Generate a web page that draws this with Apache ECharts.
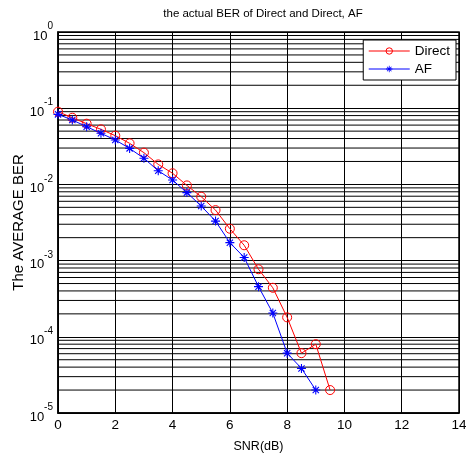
<!DOCTYPE html>
<html>
<head>
<meta charset="utf-8">
<script src="https://cdn.jsdelivr.net/npm/echarts@6/dist/echarts.min.js"></script>
<style>
  html, body { margin: 0; padding: 0; background: #fff; }
  #chart { width: 466px; height: 453px; }
</style>
</head>
<body>
<div id="chart"></div>
<script>
// SNR values (dB)
const snrDirect = [0, 0.5, 1, 1.5, 2, 2.5, 3, 3.5, 4, 4.5, 5, 5.5, 6, 6.5, 7, 7.5, 8, 8.5, 9, 9.5];
const berDirect = [0.090, 0.075, 0.0626, 0.0528, 0.0436, 0.0346, 0.0261, 0.0183, 0.0140, 0.0097,
                   0.0069, 0.0046, 0.00262, 0.00159, 7.7e-4, 4.4e-4, 1.8e-4, 6.1e-5, 8.0e-5, 2.0e-5];

const snrAF = [0, 0.5, 1, 1.5, 2, 2.5, 3, 3.5, 4, 4.5, 5, 5.5, 6, 6.5, 7, 7.5, 8, 8.5, 9];
const berAF = [0.083, 0.070, 0.0572, 0.0468, 0.0383, 0.0297, 0.0220, 0.0151, 0.0114, 0.0078,
               0.0052, 0.0033, 0.00172, 0.0011, 4.55e-4, 2.05e-4, 6.1e-5, 3.85e-5, 2.0e-5];

// axis ticks
const xTicks = [0, 2, 4, 6, 8, 10, 12, 14];
const yExponents = [-5, -4, -3, -2, -1, 0];

const xMin = xTicks[0], xMax = xTicks[xTicks.length - 1];
const yMin = Math.pow(10, yExponents[0]), yMax = Math.pow(10, yExponents[yExponents.length - 1]);

// asterisk marker built from four thin bars
const asterisk = 'path://M-0.6,-5 L0.6,-5 L0.6,5 L-0.6,5 Z ' +
  'M-5,-0.6 L5,-0.6 L5,0.6 L-5,0.6 Z ' +
  'M-3.9,-3.05 L-3.05,-3.9 L3.9,3.05 L3.05,3.9 Z ' +
  'M3.05,-3.9 L3.9,-3.05 L-3.05,3.9 L-3.9,3.05 Z';

const font = 'Liberation Sans, Arial, sans-serif';

// horizontal grid lines at 2..9 within each decade of the log axis
const minorGridSeries = [];
for (let i = 0; i < yExponents.length - 1; i++) {
  for (let k = 2; k <= 9; k++) {
    const v = k * Math.pow(10, yExponents[i]);
    minorGridSeries.push({
      name: 'minor-' + k + 'e' + yExponents[i],
      type: 'line',
      data: [[xMin, v], [xMax, v]],
      symbol: 'none',
      silent: true,
      lineStyle: { color: '#000', width: 1 },
      z: 1
    });
  }
}

const chart = echarts.init(document.getElementById('chart'), null, { renderer: 'canvas' });

chart.setOption({
  animation: false,
  backgroundColor: '#fff',
  title: {
    text: 'the actual BER of Direct and Direct, AF',
    left: 258, top: 3, textAlign: 'center',
    textStyle: { fontFamily: font, fontSize: 11.5, fontWeight: 'normal', color: '#000' }
  },
  grid: {
    left: 58, right: 7, top: 32, bottom: 40,
    outerBoundsMode: 'none',
    containLabel: false,
    show: true, borderColor: '#000', borderWidth: 1.5, backgroundColor: '#fff'
  },
  legend: {
    data: ['Direct', 'AF'],
    orient: 'vertical',
    right: 10, top: 40,
    backgroundColor: '#fff',
    borderColor: '#000', borderWidth: 1,
    padding: [4, 6, 4, 5],
    itemGap: 4,
    itemWidth: 41, itemHeight: 8,
    lineStyle: { width: 1 },
    itemStyle: { borderWidth: 1 },
    textStyle: { fontFamily: font, fontSize: 13.5, color: '#000' }
  },
  xAxis: {
    type: 'value',
    min: xMin, max: xMax, interval: 2,
    name: 'SNR(dB)', nameLocation: 'middle', nameGap: 27,
    nameTextStyle: { fontFamily: font, fontSize: 12.5, color: '#000' },
    axisLine: { show: true, lineStyle: { color: '#000', width: 1.5 } },
    axisTick: { show: true, inside: true, length: 4, lineStyle: { color: '#000' } },
    axisLabel: { fontFamily: font, fontSize: 13.5, color: '#000', margin: 5 },
    splitLine: { show: true, lineStyle: { color: '#000', width: 1 } }
  },
  yAxis: {
    type: 'log', logBase: 10,
    min: yMin, max: yMax,
    name: 'The AVERAGE BER', nameLocation: 'middle', nameGap: 32, nameRotate: 90,
    nameMoveOverlap: false,
    nameTextStyle: { fontFamily: font, fontSize: 15, color: '#000' },
    axisLine: { show: true, lineStyle: { color: '#000', width: 1.5 } },
    axisTick: { show: true, inside: true, length: 4, lineStyle: { color: '#000' } },
    axisLabel: {
      margin: 5,
      formatter: function (v) {
        const e = Math.round(Math.log10(v));
        return '{b|10}{s|' + e + '}';
      },
      rich: {
        b: { fontFamily: font, fontSize: 13, color: '#000', verticalAlign: 'bottom', lineHeight: 15 },
        s: { fontFamily: font, fontSize: 10, color: '#000', verticalAlign: 'top', padding: [0, 0, 11, 0] }
      }
    },
    splitLine: { show: true, lineStyle: { color: '#000', width: 1 } }
  },
  series: minorGridSeries.concat([
    {
      name: 'Direct',
      type: 'line',
      data: snrDirect.map((x, i) => [x, berDirect[i]]),
      symbol: 'circle', symbolSize: 9,
      itemStyle: { color: 'rgba(255,255,255,0)', borderColor: '#ff0000', borderWidth: 1 },
      lineStyle: { color: '#ff0000', width: 1 },
      z: 3
    },
    {
      name: 'AF',
      type: 'line',
      data: snrAF.map((x, i) => [x, berAF[i]]),
      symbol: asterisk, symbolSize: 9,
      itemStyle: { color: '#0000ff' },
      lineStyle: { color: '#0000ff', width: 1 },
      z: 4
    }
  ])
});
</script>
</body>
</html>
